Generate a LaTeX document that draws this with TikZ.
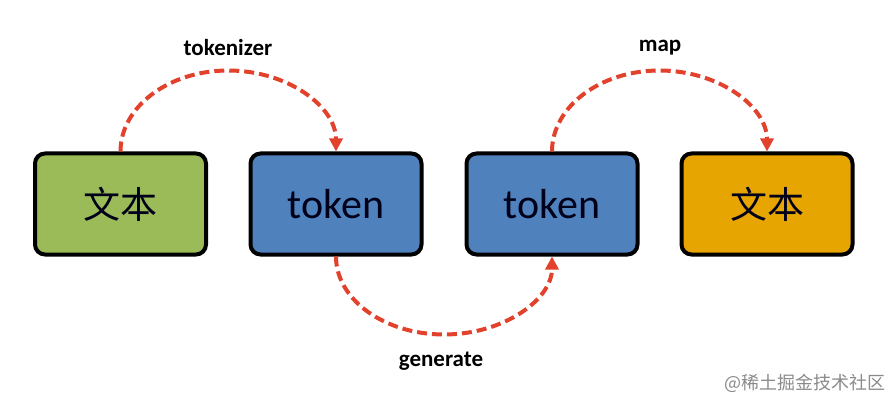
\documentclass[tikz,border=0pt]{standalone}
\usepackage{fontspec}
\setmainfont{Carlito}
\newfontfamily\cjk{Noto Sans CJK SC}
\usetikzlibrary{arrows.meta}
\definecolor{boxgreen}{HTML}{9BBB59}
\definecolor{boxblue}{HTML}{4F81BD}
\definecolor{boxorange}{HTML}{E6A500}
\definecolor{arcred}{HTML}{E2412C}
\definecolor{wmgray}{HTML}{8A8A8A}
\tikzset{
  box/.style={draw=black, line width=4pt, rounded corners=10pt,
    minimum width=171pt, minimum height=101pt, inner sep=0pt, text=black!90!blue},
  arc/.style={draw=arcred, line width=4pt, dash pattern=on 10pt off 5pt,
    -{Triangle[length=13pt,width=13pt]}},
  lbl/.style={font=\bfseries\fontsize{23}{26}\selectfont, inner sep=0pt}
}
\begin{document}
\begin{tikzpicture}[x=1pt,y=-1pt]
\useasboundingbox (0,0) rectangle (895,401);
\node[box, fill=boxgreen] (b1) at (120.5,204) {\cjk\fontsize{37}{40}\selectfont 文本};
\node[box, fill=boxblue] (b2) at (336,204) {\fontsize{42}{44}\selectfont token};
\node[box, fill=boxblue] (b3) at (552,204) {\fontsize{42}{44}\selectfont token};
\node[box, fill=boxorange] (b4) at (767,204) {\cjk\fontsize{37}{40}\selectfont 文本};
\draw[arc] (b1.north) arc[start angle=180, end angle=360, x radius=107.75, y radius=81];
\draw[arc] (b2.south) arc[start angle=180, end angle=0, x radius=108, y radius=78];
\draw[arc] (b3.north) arc[start angle=180, end angle=360, x radius=107.5, y radius=81];
\node[lbl] (t1) at (228,48) {tokenizer};
\node[lbl] (t2) at (660,48) {map};
\node[lbl] (t3) at (441,361) {generate};
\node[font=\cjk\fontsize{18}{20}\selectfont, text=wmgray, inner sep=0pt, anchor=east] (wm) at (886,383) {@稀土掘金技术社区};
\end{tikzpicture}
\end{document}
